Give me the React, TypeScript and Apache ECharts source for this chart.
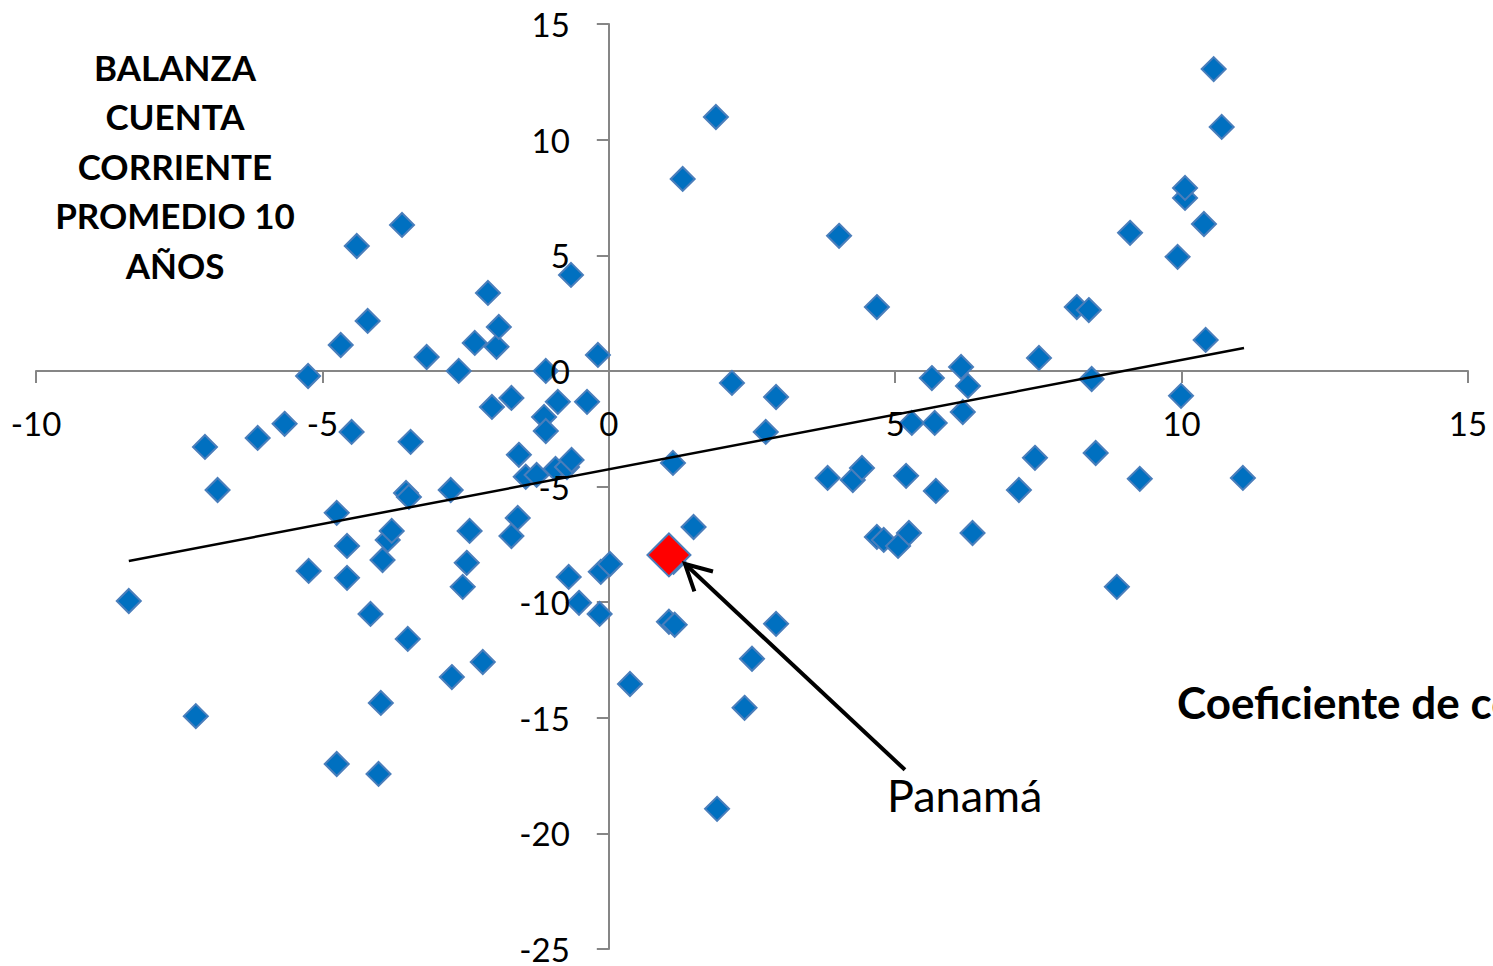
import React, { useEffect, useRef } from "react";
import * as echarts from "echarts";

// Coeficiente (x) for each country
const X_VALUES = [
  -8.38, -7.21, -7.05, -6.83, -6.13, -5.66, -5.25, -5.24, -4.75, -4.75,
  -4.68, -4.57, -4.57, -4.49, -4.4, -4.21, -4.16, -4.02, -3.98, -3.95,
  -3.86, -3.79, -3.61, -3.54, -3.49, -3.51, -3.46, -3.18, -2.76, -2.74,
  -2.62, -2.55, -2.48, -2.43, -2.34, -2.2, -2.11, -2.04, -1.96, -1.92,
  -1.7, -1.7, -1.59, -1.57, -1.45, -1.26, -1.13, -1.1, -1.1, -0.89,
  -0.93, -0.73, -0.65, -0.7, -0.66, -0.52, -0.38, -0.19, -0.16, -0.14,
  0.02, 0.37, 1.05, 1.15, 1.12, 1.29, 1.48, 1.87, 1.89, 2.15,
  2.37, 2.5, 2.74, 2.92, 2.92, 3.82, 4.02, 4.26, 4.42, 4.68,
  4.68, 4.8, 5.05, 5.24, 5.19, 5.29, 5.64, 5.69, 5.71, 6.15,
  6.18, 6.27, 6.35, 7.16, 7.44, 7.51, 8.17, 8.38, 8.43, 8.5,
  8.87, 9.1, 9.27, 9.93, 9.99, 10.06, 10.06, 10.39, 10.42, 10.56,
  10.7, 11.07, 1.13,
];

// Balanza cuenta corriente promedio 10 años (y)
const Y_VALUES = [
  -9.95, -14.93, -3.29, -5.15, -2.9, -2.29, -0.22, -8.65, -17.0, -6.14,
  1.12, -8.95, -7.57, -2.64, 5.4, 2.16, -10.51, -17.43, -14.36, -8.18,
  -7.31, -6.92, 6.31, -5.28, -5.45, -11.59, -3.07, 0.6, -5.15, -13.24,
  0.0, -9.34, -8.3, -6.92, 1.21, -12.59, 3.37, -1.56, 1.04, 1.9,
  -1.17, -7.14, -6.36, -3.63, -4.58, -4.5, -1.99, 0.0, -2.6, -1.34,
  -4.24, -4.16, -3.85, -8.91, 4.15, -10.03, -1.34, 0.69, -10.51, -8.69,
  -8.35, -13.54, -10.85, -10.98, -3.98, 8.3, -6.75, 10.98, -18.94, -0.52,
  -14.57, -12.45, -2.64, -1.13, -10.94, -4.63, 5.84, -4.72, -4.2, 2.76,
  -7.18, -7.31, -7.57, -7.01, -4.54, -2.25, -0.31, -2.25, -5.19, 0.17,
  -1.78, -0.65, -7.01, -5.15, -3.76, 0.56, 2.76, 2.63, -0.35, -3.55,
  -9.34, 5.97, -4.67, 4.93, -1.08, 7.48, 7.91, 6.35, 1.34, 13.05,
  10.55, -4.63, -8.26,
];

const PANAMA_X = [1.05];
const PANAMA_Y = [-7.96];

const TREND_X = [-8.38, 11.09];
const TREND_Y = [-8.22, 0.99];

const ARROW_TAIL = [5.17, -17.25];
const ARROW_TIP = [1.33, -8.35];

const X_MIN = -10;
const X_MAX = 15;
const Y_MIN = -25;
const Y_MAX = 15;
const STEP = 5;

const X_TICK_LABELS = [-10, -5, 0, 5, 10, 15];
const Y_TICK_LABELS = [15, 10, 5, 0, -5, -10, -15, -20, -25];

const TITLE_LINES = ["BALANZA", "CUENTA", "CORRIENTE", "PROMEDIO 10", "AÑOS"];
const X_TITLE = "Coeficiente de correlación";
const PANAMA_LABEL = "Panamá";

const FONT = "Lato, 'Open Sans', 'DejaVu Sans', sans-serif";
const AXIS_COLOR = "#868686";

export default function App() {
  const ref = useRef<HTMLDivElement>(null);

  useEffect(() => {
    const chart = echarts.init(ref.current!, null, { renderer: "svg" });
    const points = X_VALUES.map((x, i) => [x, Y_VALUES[i]]);
    const panama = PANAMA_X.map((x, i) => [x, PANAMA_Y[i]]);
    const trend = TREND_X.map((x, i) => [x, TREND_Y[i]]);

    const axisCommon = {
      type: "value",
      interval: STEP,
      splitLine: { show: false },
      axisLabel: { show: false },
      axisLine: {
        show: true,
        onZero: true,
        lineStyle: { color: AXIS_COLOR, width: 2 },
      },
      axisTick: {
        show: true,
        inside: false,
        length: 12,
        lineStyle: { color: AXIS_COLOR, width: 2 },
      },
    };

    chart.setOption({
      animation: false,
      backgroundColor: "#ffffff",
      grid: {
        left: 36,
        right: 25,
        top: 24,
        bottom: 17,
        containLabel: false,
        outerBoundsMode: "none",
      },
      xAxis: { ...axisCommon, min: X_MIN, max: X_MAX },
      yAxis: { ...axisCommon, min: Y_MIN, max: Y_MAX },
      series: [
        {
          type: "scatter",
          data: points,
          symbol: "diamond",
          symbolSize: 24,
          z: 2,
          itemStyle: {
            color: "#0070C0",
            borderColor: "#4A7EBB",
            borderWidth: 2,
            opacity: 1,
          },
        },
        {
          type: "line",
          data: trend,
          symbol: "none",
          z: 3,
          lineStyle: { color: "#000", width: 2.5 },
        },
        {
          type: "scatter",
          data: panama,
          symbol: "diamond",
          symbolSize: 43,
          z: 4,
          itemStyle: {
            color: "#FF0000",
            borderColor: "#4A7EBB",
            borderWidth: 2,
            opacity: 1,
          },
        },
      ],
    });

    const px = (x: number, y: number) =>
      chart.convertToPixel({ gridIndex: 0 }, [x, y]) as number[];

    const tail = px(ARROW_TAIL[0], ARROW_TAIL[1]);
    const tip = px(ARROW_TIP[0], ARROW_TIP[1]);
    const dx = tail[0] - tip[0];
    const dy = tail[1] - tip[1];
    const len = Math.sqrt(dx * dx + dy * dy);
    const ux = dx / len;
    const uy = dy / len;
    const ang = (28 * Math.PI) / 180;
    const armLen = 29;
    const rot = (a: number) => [
      tip[0] + armLen * (ux * Math.cos(a) - uy * Math.sin(a)),
      tip[1] + armLen * (ux * Math.sin(a) + uy * Math.cos(a)),
    ];
    const arm1 = rot(ang);
    const arm2 = rot(-ang);

    const labelStyle = {
      fontSize: 33,
      lineHeight: 33,
      fontFamily: FONT,
      fill: "#000",
    };

    const xLabels = X_TICK_LABELS.map((v) => {
      const p = px(v, 0);
      return {
        type: "text",
        x: p[0],
        y: p[1] + 52,
        z: 5,
        style: { ...labelStyle, text: String(v), align: "center", verticalAlign: "middle" },
      };
    });
    const yLabels = Y_TICK_LABELS.map((v) => {
      const p = px(0, v);
      return {
        type: "text",
        x: p[0] - 39,
        y: p[1],
        z: 5,
        style: { ...labelStyle, text: String(v), align: "right", verticalAlign: "middle" },
      };
    });

    chart.setOption({
      graphic: [
        ...xLabels,
        ...yLabels,
        {
          type: "text",
          x: 175,
          y: 42,
          z: 10,
          style: {
            text: TITLE_LINES.join("\n"),
            fontSize: 35,
            fontWeight: "bold",
            fontFamily: FONT,
            fill: "#000",
            align: "center",
            verticalAlign: "top",
            lineHeight: 49.5,
          },
        },
        {
          type: "text",
          x: 1177,
          y: 702,
          z: 10,
          style: {
            text: X_TITLE,
            fontSize: 44,
            fontWeight: "bold",
            fontFamily: FONT,
            fill: "#000",
            align: "left",
            verticalAlign: "middle",
          },
        },
        {
          type: "line",
          z: 10,
          shape: { x1: tail[0], y1: tail[1], x2: tip[0] + ux * 2, y2: tip[1] + uy * 2 },
          style: { stroke: "#000", lineWidth: 4 },
        },
        {
          type: "polyline",
          z: 10,
          shape: { points: [arm1, [tip[0], tip[1]], arm2] },
          style: { stroke: "#000", lineWidth: 4, fill: "none" },
        },
        {
          type: "text",
          x: tail[0] - 18,
          y: tail[1] + 25,
          z: 10,
          style: {
            text: PANAMA_LABEL,
            fontSize: 45,
            fontFamily: FONT,
            fill: "#000",
            align: "left",
            verticalAlign: "middle",
          },
        },
      ],
    });

    return () => chart.dispose();
  }, []);

  return (
    <div
      ref={ref}
      style={{
        position: "fixed",
        left: 0,
        top: 0,
        width: 1493,
        height: 966,
        background: "#fff",
      }}
    />
  );
}
